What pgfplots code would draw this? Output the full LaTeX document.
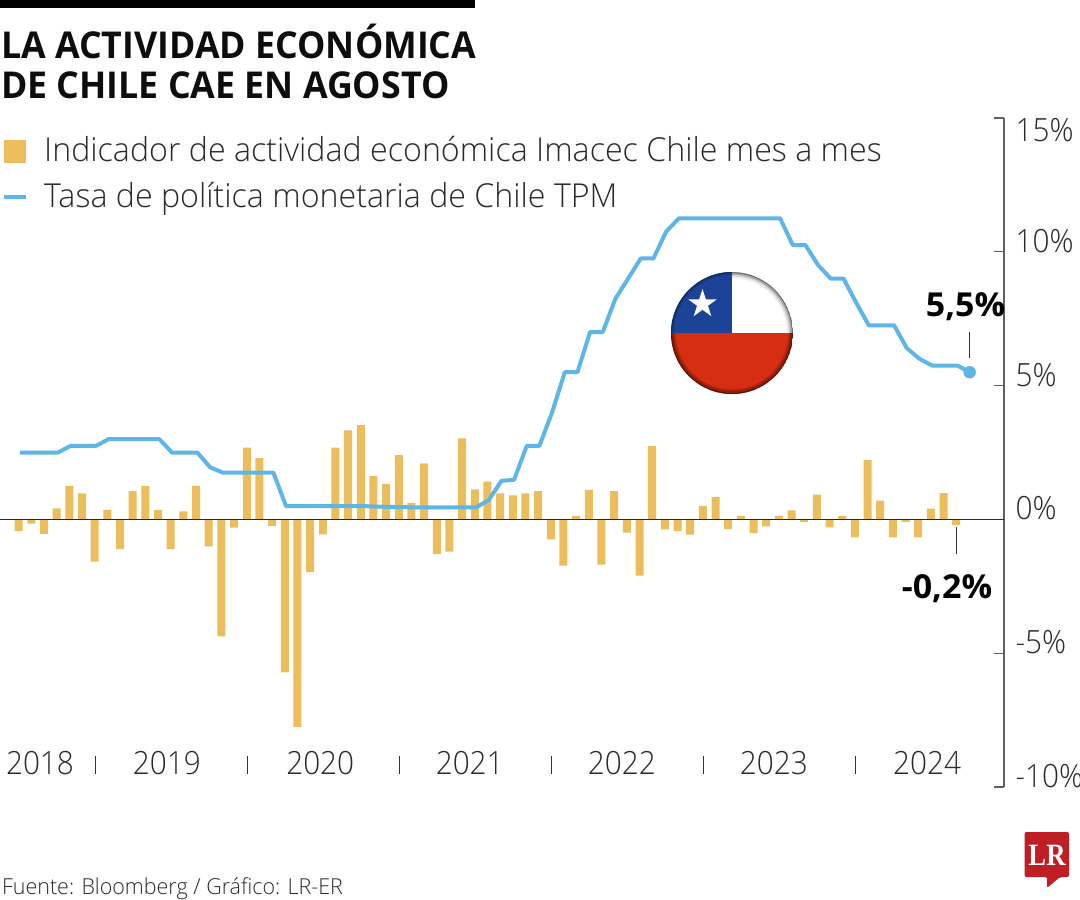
\documentclass[border=0pt]{standalone}
\usepackage{pgfplots}
\pgfplotsset{compat=1.18}
\usepackage{fontspec}
\setmainfont{Open Sans}
\newfontfamily\lightfont[FakeStretch=0.975]{Open Sans Light}
\newfontfamily\tickfont[FakeStretch=0.93]{Open Sans Light}
\newfontfamily\titlefont[FakeStretch=0.965]{Open Sans}
\newfontfamily\calloutfont[FakeStretch=1.03]{Open Sans}
\newfontfamily\lrfont[FakeStretch=0.86]{Liberation Serif}
\usetikzlibrary{shapes.geometric}

\definecolor{barcol}{HTML}{EBBD5C}
\definecolor{linecol}{HTML}{5DB6E6}
\definecolor{txt}{HTML}{2A2A2A}
\definecolor{axcol}{HTML}{5F5F5F}
\definecolor{flagblue}{HTML}{1B4397}
\definecolor{flagred}{HTML}{D62E12}
\definecolor{lrred}{HTML}{BF1E24}

% 1 pt = 1 px of the reference, y runs downwards as negative
\pgfplotstableread{
i v
0 -0.44
1 -0.16
2 -0.54
3 0.41
4 1.25
5 0.97
6 -1.58
7 0.36
8 -1.11
9 1.06
10 1.25
11 0.36
12 -1.11
13 0.30
14 1.25
15 -1.01
16 -4.37
17 -0.31
18 2.68
19 2.29
20 -0.24
21 -5.72
22 -7.75
23 -1.97
24 -0.56
25 2.68
26 3.33
27 3.52
28 1.63
29 1.33
30 2.40
31 0.62
32 2.09
33 -1.30
34 -1.20
35 3.03
36 1.12
37 1.41
38 0.97
39 0.90
40 0.97
41 1.06
42 -0.75
43 -1.73
44 0.12
45 1.10
46 -1.69
47 1.06
48 -0.49
49 -2.10
50 2.74
51 -0.37
52 -0.44
53 -0.57
54 0.51
55 0.83
56 -0.35
57 0.12
58 -0.51
59 -0.26
60 0.12
61 0.34
62 -0.09
63 0.93
64 -0.30
65 0.12
66 -0.67
67 2.22
68 0.70
69 -0.67
70 -0.09
71 -0.67
72 0.40
73 0.98
74 -0.21
}\imacec

\begin{document}
\begin{tikzpicture}[x=1pt,y=1pt]
\path[use as bounding box] (0,0) rectangle (1080,-900);

\begin{axis}[
  at={(0pt,-787pt)}, anchor=south west,
  scale only axis, width=1004pt, height=669pt,
  clip=false,
  xmin=-1.476, xmax=77.77,
  ymin=-10, ymax=15,
  axis y line*=right,
  axis x line*=bottom,
  x axis line style={draw=none},
  y axis line style={draw=axcol, line width=1.3pt, -},
  ytick={-10,-5,0,5,10},
  yticklabels={-10\%,-5\%,0\%,5\%,10\%},
  extra y ticks={15},
  extra y tick labels={15\%},
  extra y tick style={yticklabel style={yshift=-23.5pt}},
  yticklabel style={font=\tickfont\fontsize{32}{32}\selectfont, text=txt, anchor=west, xshift=8pt, yshift=11pt},
  ytick style={draw=axcol, line width=1.3pt},
  tick align=inside,
  major tick length=10pt,
  xtick={1.68,11.7,23.8,35.6,47.6,59.6,71.7},
  xticklabels={2018,2019,2020,2021,2022,2023,2024},
  x tick style={draw=none},
  xticklabel style={font=\tickfont\fontsize{32}{32}\selectfont, text=txt, anchor=center, yshift=24pt},
  /pgf/number format/assume math mode=true,
]
\addplot[ybar, bar width=8pt, fill=barcol, draw=none] table[x=i,y=v] {\imacec};

\draw[black!85, line width=1.2pt] (axis cs:-1.476,0) -- (axis cs:77.77,0);

\addplot[color=linecol, line width=4pt, line join=round] coordinates {
(0.1,2.5) (1.1,2.5) (2.1,2.5) (3.1,2.5) (4.1,2.75) (5.1,2.75) (6.1,2.75) (7.1,3.0)
(8.1,3.0) (9.1,3.0) (10.1,3.0) (11.1,3.0) (12.1,2.5) (13.1,2.5) (14.1,2.5) (15.1,1.95)
(16.1,1.75) (17.1,1.75) (18.1,1.75) (19.1,1.75) (20.1,1.75) (21.1,0.5) (22.1,0.5) (23.1,0.5)
(24.1,0.5) (25.1,0.5) (26.1,0.5) (27.1,0.5) (28.1,0.48) (29.1,0.47) (30.1,0.46) (31.1,0.45)
(32.1,0.45) (33.1,0.45) (34.1,0.45) (35.1,0.45) (36.1,0.45) (37.1,0.72) (38.1,1.44) (39.1,1.48)
(40.1,2.75) (41.1,2.75) (42.1,4.0) (43.1,5.5) (44.1,5.5) (45.1,7.0) (46.1,7.0) (47.1,8.25)
(48.1,9.0) (49.1,9.75) (50.1,9.75) (51.1,10.75) (52.1,11.25) (53.1,11.25) (54.1,11.25) (55.1,11.25)
(56.1,11.25) (57.1,11.25) (58.1,11.25) (59.1,11.25) (60.1,11.25) (61.1,10.25) (62.1,10.25) (63.1,9.5)
(64.1,9.0) (65.1,9.0) (66.1,8.1) (67.1,7.25) (68.1,7.25) (69.1,7.25) (70.1,6.4) (71.1,6.0)
(72.1,5.75) (73.1,5.75) (74.1,5.75) (75.06,5.5)
};
\addplot[only marks, mark=*, mark size=6pt, color=linecol] coordinates {(75.06,5.5)};

% year separators
\foreach \s in {6,18,30,42,54,66} {
  \edef\tmp{\noexpand\draw[black!80, line width=1pt] (axis cs:\s+0.05,-8.84) -- (axis cs:\s+0.05,-9.51);}
  \tmp
}

% callouts
\draw[black!80, line width=0.9pt] (axis cs:75.06,7.0) -- (axis cs:75.06,6.05);
\node[font=\calloutfont\fontsize{33}{33}\selectfont\bfseries, text=black] at (axis cs:74.73,7.95) {5,5\%};
\draw[black!80, line width=0.9pt] (axis cs:74,-0.3) -- (axis cs:74,-1.3);
\node[font=\calloutfont\fontsize{33}{33}\selectfont\bfseries, text=black] at (axis cs:73.27,-2.58) {-0,2\%};
\end{axis}

% header
\fill[black] (0,0) rectangle (475,-8);
\node[anchor=base west, inner sep=0pt, font=\titlefont\fontsize{37}{37}\selectfont\bfseries, text=black!95] at (1,-58.5) {LA ACTIVIDAD ECONÓMICA};
\node[anchor=base west, inner sep=0pt, font=\titlefont\fontsize{37}{37}\selectfont\bfseries, text=black!95] at (1,-98.5) {DE CHILE CAE EN AGOSTO};

% legend
\fill[barcol] (4,-140) rectangle (26,-163);
\node[anchor=base west, inner sep=0pt, font=\lightfont\fontsize{33}{33}\selectfont, text=txt] at (44,-161.5) {Indicador de actividad económica Imacec Chile mes a mes};
\draw[linecol, line width=4pt] (4,-197) -- (26,-197);
\node[anchor=base west, inner sep=0pt, font=\lightfont\fontsize{33}{33}\selectfont, text=txt] at (44,-207) {Tasa de política monetaria de Chile TPM};

% flag
\begin{scope}
\clip (732,-333) circle (61);
\fill[white] (671,-272) rectangle (793,-333);
\fill[flagblue] (671,-272) rectangle (732,-333);
\fill[flagred] (671,-333) rectangle (793,-395);
\draw[black!55, line width=1.6pt] (732,-333) ++(90:60.3) arc (90:0:60.3);
\draw[black!35, line width=1.6pt] (732,-333) ++(90:58.8) arc (90:0:58.8);
\draw[black!18, line width=1.6pt] (732,-333) ++(90:57.3) arc (90:0:57.3);
\draw[black!7, line width=1.6pt] (732,-333) ++(90:55.8) arc (90:0:55.8);
\draw[flagred!45!black, line width=1.6pt] (732,-333) ++(0:60.3) arc (0:-180:60.3);
\draw[flagred!62!black, line width=1.6pt] (732,-333) ++(0:58.8) arc (0:-180:58.8);
\draw[flagred!80!black, line width=1.6pt] (732,-333) ++(0:57.3) arc (0:-180:57.3);
\draw[flagblue!65!black, line width=1.5pt] (732,-333) ++(90:60.3) arc (90:180:60.3);
\draw[flagblue!85!black, line width=1.5pt] (732,-333) ++(90:58.8) arc (90:180:58.8);
\end{scope}
\node[star, star points=5, star point ratio=2.618, fill=white, inner sep=0pt, minimum size=30pt] at (702.5,-304) {};

% logo
\fill[lrred, rounded corners=2pt] (1024.5,-832) -- (1069,-832) -- (1069,-877) -- (1060,-877) -- (1047,-888) -- (1047,-877) -- (1024.5,-877) -- cycle;
\node[anchor=base, inner sep=0pt, font=\lrfont\fontsize{31}{31}\selectfont\bfseries, text=white] at (1047,-865) {LR};

% source
\node[anchor=base west, inner sep=0pt, font=\lightfont\fontsize{22}{22}\selectfont, text=txt] at (2,-894) {Fuente: Bloomberg / Gráfico: LR-ER};
\end{tikzpicture}
\end{document}
